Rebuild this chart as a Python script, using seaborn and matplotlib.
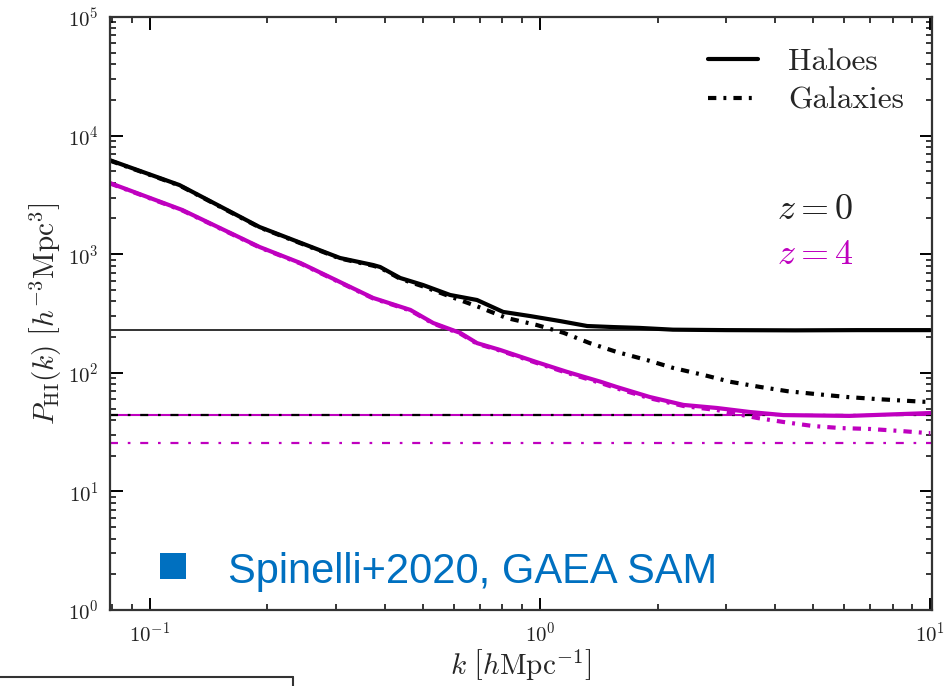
import numpy as np
import pandas as pd
import matplotlib
matplotlib.use("Agg")
import matplotlib.pyplot as plt
from matplotlib.lines import Line2D
from matplotlib.patches import Rectangle
from matplotlib.ticker import FixedLocator, NullFormatter
import seaborn as sns

# ---------------- data ----------------
k_halo_z0 = [0.079, 0.119, 0.191, 0.307, 0.373, 0.389, 0.438, 0.501, 0.588,
             0.689, 0.804, 0.942, 1.125, 1.32, 1.54, 1.80, 2.19, 3.0, 4.5,
             6.5, 10.0]
P_halo_z0 = [6200, 3830, 1695, 929, 811, 780, 630, 550, 453,
             411, 326, 301, 273, 248, 243, 239, 231, 229, 228,
             229, 229]

k_gal_z0 = [0.079, 0.119, 0.191, 0.307, 0.373, 0.389, 0.438, 0.501, 0.588,
            0.696, 0.82, 0.98, 1.15, 1.34, 1.57, 1.88, 2.19, 2.62, 3.07,
            3.66, 4.30, 5.13, 6.12, 7.31, 9.6, 10.0]
P_gal_z0 = [6150, 3800, 1680, 920, 800, 770, 620, 535, 440,
            359, 290, 253, 217, 178, 150, 128, 110, 96, 84,
            76, 70, 66, 62.5, 60, 57, 57]

k_halo_z4 = [0.079, 0.121, 0.191, 0.243, 0.373, 0.465, 0.532, 0.624, 0.689,
             0.789, 0.98, 1.17, 1.43, 1.57, 1.91, 2.33, 2.84, 3.45, 4.2,
             6.2, 10.0]
P_halo_z4 = [3980, 2360, 1150, 843, 428, 339, 263, 217, 178,
             156, 123, 102, 84, 76, 62.5, 53.6, 50.5, 46.7, 44,
             43.3, 45.8]

k_gal_z4 = [0.079, 0.121, 0.191, 0.243, 0.373, 0.465, 0.532, 0.624, 0.689,
            0.789, 0.98, 1.17, 1.43, 1.57, 1.91, 2.33, 2.84, 3.6, 4.2,
            5.0, 5.88, 7.0, 8.4, 9.9, 10.0]
P_gal_z4 = [3950, 2340, 1140, 835, 424, 335, 260, 214, 176,
            154, 121, 100, 82, 74, 61, 52.5, 48.5, 41.6, 38.5,
            35.6, 34.2, 33.6, 32.3, 31, 31]

shot_noise_values = [230, 44, 44, 25.6]          # halo z0, gal z0, halo z4, gal z4
shot_noise_names = ["halo_z0", "gal_z0", "halo_z4", "gal_z4"]

x_major_ticks = [0.1, 1.0, 10.0]
y_major_ticks = [1, 10, 100, 1000, 10000, 100000]

legend_labels = ["Haloes", "Galaxies"]
redshift_labels = ["$z = 0$", "$z = 4$"]
source_label = "Spinelli+2020, GAEA SAM"

# ---------------- style ----------------
sns.set_style("ticks")
plt.rcParams.update({
    "font.family": "serif",
    "font.serif": ["cmr10", "DejaVu Serif"],
    "mathtext.fontset": "cm",
    "axes.formatter.use_mathtext": True,
    "axes.unicode_minus": False,
})

MAG = "#BF00BF"
BLUE = "#0070C0"

fig = plt.figure(figsize=(9.44, 6.86), dpi=100)
ax = fig.add_axes([110 / 944, 1 - 610 / 686, 822 / 944, 593 / 686])

dashdot_thick = (0, (2.0, 1.7, 0.7, 1.7))
dashdot_thin = (0, (3.6, 4.4, 1.2, 4.4))

series = [
    (k_halo_z0, P_halo_z0, "black", "-"),
    (k_gal_z0, P_gal_z0, "black", dashdot_thick),
    (k_halo_z4, P_halo_z4, MAG, "-"),
    (k_gal_z4, P_gal_z4, MAG, dashdot_thick),
]
for kk, pp, col, ls in series:
    df = pd.DataFrame({"k": kk, "P": pp})
    sns.lineplot(data=df, x="k", y="P", ax=ax, color=col, lw=3.0,
                 linestyle=ls, estimator=None, sort=False, legend=False)

# shot-noise levels
sn = dict(zip(shot_noise_names, shot_noise_values))
ax.axhline(sn["halo_z0"], color="#222222", lw=1.3, ls="-", zorder=1)
ax.axhline(sn["halo_z4"], color=MAG, lw=1.5, ls="-", zorder=1)
ax.axhline(sn["gal_z0"], color="black", lw=1.6, ls=dashdot_thin, zorder=1.5)
ax.axhline(sn["gal_z4"], color=MAG, lw=1.6, ls=dashdot_thin, zorder=1)

ax.set_xscale("log")
ax.set_yscale("log")


def minor_positions(majors):
    return [m * t for t in majors[:-1] for m in range(2, 10)]


ax.xaxis.set_major_locator(FixedLocator(x_major_ticks))
ax.yaxis.set_major_locator(FixedLocator(y_major_ticks))
ax.xaxis.set_minor_locator(FixedLocator([0.08, 0.09] + minor_positions(x_major_ticks)))
ax.yaxis.set_minor_locator(FixedLocator(minor_positions(y_major_ticks)))
ax.xaxis.set_minor_formatter(NullFormatter())
ax.yaxis.set_minor_formatter(NullFormatter())
ax.set_xlim(0.079, 10.1)
ax.set_ylim(1, 1e5)

ax.set_xlabel(r"$k\ \left[h\mathrm{Mpc}^{-1}\right]$", fontsize=21, labelpad=2)
ax.set_ylabel(r"$P_{\rm HI}(k)\ \left[h^{-3}\mathrm{Mpc}^{3}\right]$", fontsize=21, labelpad=3)

for s in ax.spines.values():
    s.set_linewidth(1.6)
    s.set_color("#333333")

ax.tick_params(which="both", direction="in", top=True, right=True, color="black")
ax.tick_params(which="major", length=9, width=1.4, labelsize=15, pad=8,
               labelcolor="#222222")
ax.tick_params(which="minor", length=4.5, width=1.1)

handles = [Line2D([], [], color="black", lw=3.0, ls="-"),
           Line2D([], [], color="black", lw=3.0, ls=dashdot_thick)]
ax.legend(handles, legend_labels, loc="upper right", frameon=False, fontsize=22.5,
          handlelength=1.6, handletextpad=0.96, labelspacing=0.35,
          bbox_to_anchor=(1.0, 0.995))

ax.text(0.858, 0.675, redshift_labels[0], transform=ax.transAxes, fontsize=26,
        color="#222222", ha="center", va="center")
ax.text(0.858, 0.599, redshift_labels[1], transform=ax.transAxes, fontsize=26,
        color=MAG, ha="center", va="center")

ax.text((228 - 110) / 822, (610 - 583) / 593, source_label, transform=ax.transAxes,
        fontsize=30, color=BLUE, family="Liberation Sans", ha="left", va="baseline")
fig.add_artist(Rectangle((160 / 944, 1 - 579 / 686), 26 / 944, 26 / 686,
                         transform=fig.transFigure, color=BLUE, lw=0))

# decorative box edge at the lower left
fig.add_artist(Line2D([0, 293 / 944], [1 - 677 / 686] * 2, transform=fig.transFigure,
                      color="#333333", lw=1.5))
fig.add_artist(Line2D([293 / 944] * 2, [1 - 677 / 686, 0], transform=fig.transFigure,
                      color="#333333", lw=1.5))

fig.savefig("out.png", dpi=100)
